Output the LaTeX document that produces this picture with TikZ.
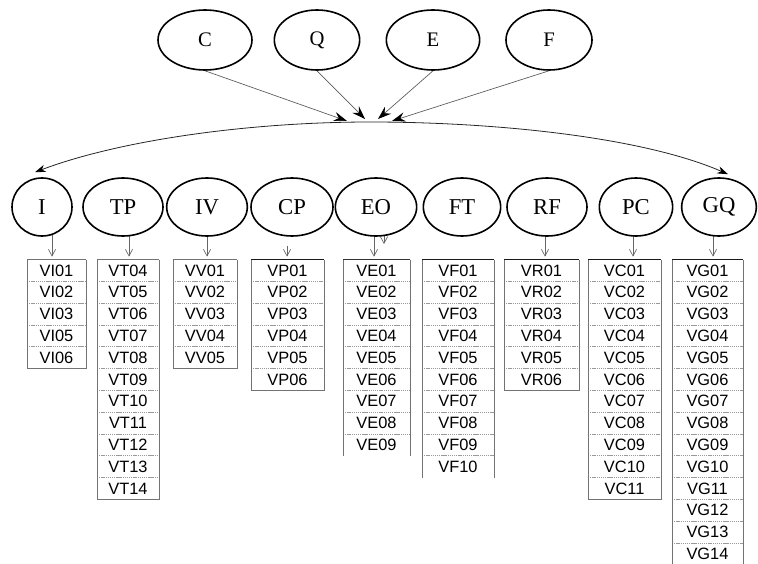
\documentclass[tikz,border=0pt]{standalone}
\usepackage{fontspec}
\setmainfont{Liberation Serif}
\newfontfamily\tabfont{Liberation Sans}
\usetikzlibrary{shapes.geometric,arrows.meta,calc}
\pgfdeclarelayer{bg}
\pgfsetlayers{bg,main}
\newcommand\vtab[6]{%
  \gdef\tabrows{0}%
  \foreach \lab [count=\k] in {#4}{%
    \node[cell,minimum width={(#3-#2)*0.75pt}] (#1\k) at ({(#2+#3)/2},{259.5+(\k-0.5)*21.8}) {\lab};
    \xdef\tabrows{\k}}%
  \pgfmathsetmacro\tabbot{259.5+\tabrows*21.8}%
  \foreach \k in {2,...,\tabrows}{\draw[sep] (#2,{259.5+(\k-1)*21.8}) -- (#3,{259.5+(\k-1)*21.8});}%
  \ifnum#5=1
    \draw[frame] (#2,259.5) -- (#2,\tabbot) -- (#3,\tabbot) -- (#3,259.5);
  \else
    \draw[frame] (#2,259.5) -- (#2,\tabbot) (#3,\tabbot) -- (#3,259.5);
  \fi
  \draw[frame,draw=#6] (#2,259.5) -- (#3,259.5);
}
\begin{document}
\begin{tikzpicture}[x=0.75pt,y=-0.75pt,
  ell/.style={ellipse,draw=black,line width=1.2pt,fill=white,inner sep=0pt,minimum height=43.5pt,font=\fontsize{17}{18}\selectfont},
  topell/.style={ell,minimum height=45pt,font=\fontsize{15.5}{16}\selectfont},
  cell/.style={inner sep=0pt,minimum height=16.35pt,font=\tabfont\fontsize{12.3}{12}\selectfont,text=black},
  sep/.style={draw=black!40,line width=0.4pt,dash pattern=on 1pt off 0.6pt},
  frame/.style={draw=black!55,line width=0.75pt},
  feed/.style={draw=black!65,line width=0.5pt,-{Stealth[length=10pt,width=7pt,inset=3.5pt,black]}},
  arcline/.style={draw=black!85,line width=0.6pt,{Stealth[length=8pt,width=5.5pt,inset=2.5pt,black]}-{Stealth[length=8pt,width=5.5pt,inset=2.5pt,black]}},
  down/.style={draw=black!60,line width=0.5pt,-{Straight Barb[length=5pt,width=5.5pt]},shorten >=2pt}
]
\useasboundingbox (0,0) rectangle (758,564);
% top ellipses
\node[topell,minimum width=70.5pt] (C) at (205,40) {C};
\node[topell,minimum width=64pt] (Q) at (317,40) {Q};
\node[topell,minimum width=70pt] (E) at (433,40) {E};
\node[topell,minimum width=64.5pt] (F) at (549,40) {F};
% lower ellipses
\node[ell,minimum width=45pt] (I) at (42,207) {I};
\node[ell,minimum width=60pt] (TP) at (123,207) {TP};
\node[ell,minimum width=60.5pt] (IV) at (207,207) {IV};
\node[ell,minimum width=61.5pt] (CP) at (292,207) {CP};
\node[ell,minimum width=61pt] (EO) at (376,207) {EO};
\node[ell,minimum width=58pt] (FT) at (462,207) {FT};
\node[ell,minimum width=60pt] (RF) at (547,207) {RF};
\node[ell,minimum width=55pt] (PC) at (636,207) {PC};
\node[ell,minimum width=56pt] (GQ) at (719,207) {GQ};
% hub coordinates
\coordinate (hub) at (370,122);
\coordinate (tC) at (347,121);
\coordinate (tQ) at (365,119);
\coordinate (tE) at (378,119);
\coordinate (tF) at (392,121);
\coordinate (arcL) at ($(I.north)+(-7,-5)$);
\coordinate (arcR) at ($(GQ.north)+(9,-3)$);
\draw[arcline] (arcL) .. controls (120,140) and (250,122) .. (hub) .. controls (490,122) and (640,136) .. (arcR);
\draw[feed] (C.south) -- (tC);
\draw[feed] (Q.south) -- (tQ);
\draw[feed] (E.south) -- (tE);
\draw[feed] (F.south) -- (tF);
% tables
\vtab{tI}{27}{86}{VI01,VI02,VI03,VI05,VI06}{1}{black!55}
\vtab{tT}{97}{159}{VT04,VT05,VT06,VT07,VT08,VT09,VT10,VT11,VT12,VT13,VT14}{1}{black!55}
\vtab{tV}{173}{237}{VV01,VV02,VV03,VV04,VV05}{1}{black!55}
\vtab{tP}{251}{324}{VP01,VP02,VP03,VP04,VP05,VP06}{1}{black!90}
\vtab{tE}{343}{410}{VE01,VE02,VE03,VE04,VE05,VE06,VE07,VE08,VE09}{0}{black!80}
\vtab{tF}{422}{494}{VF01,VF02,VF03,VF04,VF05,VF06,VF07,VF08,VF09,VF10}{0}{black!90}
\vtab{tR}{504}{579}{VR01,VR02,VR03,VR04,VR05,VR06}{1}{black!90}
\vtab{tC}{588}{661}{VC01,VC02,VC03,VC04,VC05,VC06,VC07,VC08,VC09,VC10,VC11}{1}{black!90}
\vtab{tG}{672}{743}{VG01,VG02,VG03,VG04,VG05,VG06,VG07,VG08,VG09,VG10,VG11,VG12,VG13,VG14}{0}{black!90}
% arrow start points
\coordinate (aI) at ($(I.center)+(10,0)$);
\coordinate (aT) at ($(TP.center)+(6,0)$);
\coordinate (aV) at (IV.center);
\coordinate (aP) at ($(CP.south)+(-5,9)$);
\coordinate (aE) at ($(EO.center)+(-2,0)$);
\coordinate (aE2) at ($(EO.center)+(8,0)$);
\coordinate (aE2end) at ($(EO.center)+(8,37)$);
\coordinate (aR) at ($(RF.center)+(-2,0)$);
\coordinate (aC) at ($(PC.center)+(-3,0)$);
\coordinate (aG) at ($(GQ.center)+(-6,0)$);
\begin{pgfonlayer}{bg}
\draw[down] (aI) -- (aI |- tI1.north);
\draw[down] (aT) -- (aT |- tT1.north);
\draw[down] (aV) -- (aV |- tV1.north);
\draw[down] (aP) -- (aP |- tP1.north);
\draw[down] (aE) -- (aE |- tE1.north);
\draw[down,shorten >=0pt] (aE2) -- (aE2end);
\draw[down] (aR) -- (aR |- tR1.north);
\draw[down] (aC) -- (aC |- tC1.north);
\draw[down] (aG) -- (aG |- tG1.north);
\end{pgfonlayer}
\end{tikzpicture}
\end{document}
